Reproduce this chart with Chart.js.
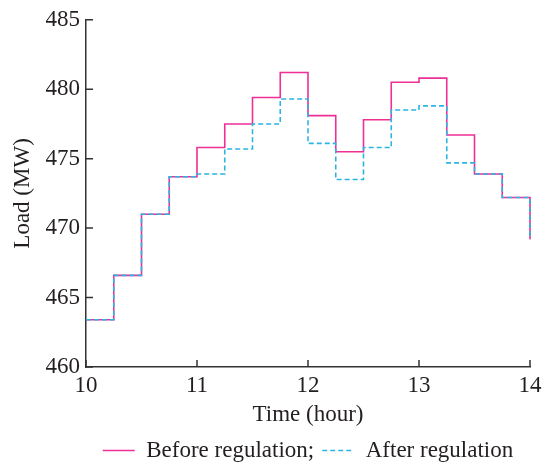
<!DOCTYPE html>
<html>
<head>
<meta charset="utf-8">
<script src="https://cdn.jsdelivr.net/npm/chart.js@4/dist/chart.umd.min.js"></script>
<style>
  html, body { margin: 0; padding: 0; background: #fff; }
</style>
</head>
<body>
<canvas id="chart" width="542" height="465"></canvas>
<script>
// time steps (hour), 15 min resolution
const hours = [10, 10.25, 10.5, 10.75, 11, 11.25, 11.5, 11.75, 12, 12.25, 12.5, 12.75, 13, 13.25, 13.5, 13.75, 14];
// load (MW)
const beforeLoad = [463.4, 466.6, 471.0, 473.7, 475.8, 477.5, 479.4, 481.2, 478.1, 475.5, 477.8, 480.5, 480.8, 476.7, 473.9, 472.2, 469.2];
const afterLoad  = [463.4, 466.6, 471.0, 473.7, 473.9, 475.7, 477.5, 479.3, 476.1, 473.5, 475.8, 478.5, 478.8, 474.7, 473.9, 472.2, 469.2];
const seriesNames = ['Before regulation;', 'After regulation'];
const xRange = [10, 14];
const yRange = [460, 485];

const textColor = '#231f20';
const axisColor = '#333333';
const font = { family: '"Liberation Serif", "Times New Roman", serif', size: 23 };

function toPoints(vals) {
    return hours.map((h, i) => ({ x: h, y: vals[i] }));
}

// ticks pointing into the plot
const inwardTicks = {
    id: 'inwardTicks',
    afterDraw(chart) {
        const { ctx, chartArea } = chart;
        const x = chart.scales.x, y = chart.scales.y;
        ctx.save();
        ctx.strokeStyle = axisColor;
        ctx.lineWidth = 1.5;
        ctx.beginPath();
        y.ticks.forEach((t, i) => {
            const py = y.getPixelForTick(i);
            ctx.moveTo(chartArea.left, py);
            ctx.lineTo(chartArea.left + 7, py);
        });
        x.ticks.forEach((t, i) => {
            const px = x.getPixelForTick(i);
            ctx.moveTo(px, chartArea.bottom);
            ctx.lineTo(px, chartArea.bottom - 7);
        });
        ctx.stroke();
        ctx.restore();
    }
};

const ctx = document.getElementById('chart').getContext('2d');
new Chart(ctx, {
    type: 'line',
    data: {
        datasets: [{
            label: seriesNames[0],
            data: toPoints(beforeLoad),
            borderColor: '#ee2f96',
            borderWidth: 1.6,
            stepped: 'before',
            pointRadius: 0,
            fill: false,
            clip: 4,
            order: 1
        }, {
            label: seriesNames[1],
            data: toPoints(afterLoad),
            borderColor: '#2db4e2',
            borderWidth: 1.6,
            borderDash: [5, 3],
            stepped: 'before',
            pointRadius: 0,
            fill: false,
            clip: 4,
            order: 0
        }]
    },
    options: {
        responsive: false,
        animation: false,
        layout: { padding: { top: 17, right: 12, left: 0, bottom: 0 } },
        plugins: {
            tooltip: { enabled: false },
            legend: {
                position: 'bottom',
                fullSize: false,
                maxHeight: 34,
                labels: {
                    usePointStyle: true,
                    pointStyle: 'line',
                    pointStyleWidth: 32,
                    padding: 8,
                    color: textColor,
                    font: font,
                    generateLabels: (chart) => {
                        const items = Chart.defaults.plugins.legend.labels.generateLabels(chart);
                        items.forEach(it => {
                            const ds = chart.data.datasets[it.datasetIndex];
                            it.lineDash = ds.borderDash || [];
                            it.lineWidth = ds.borderWidth;
                            it.strokeStyle = ds.borderColor;
                        });
                        return items;
                    },
                    sort: (a, b) => a.datasetIndex - b.datasetIndex
                }
            }
        },
        scales: {
            x: {
                type: 'linear',
                min: xRange[0],
                max: xRange[1],
                afterFit: (s) => { s.height = 64; s.paddingLeft = 0; s.paddingRight = 12; },
                ticks: { stepSize: 1, color: textColor, font: font, padding: 5, maxRotation: 0 },
                grid: { display: false, drawTicks: false },
                border: { display: true, color: axisColor, width: 1.5 },
                title: { display: true, text: 'Time (hour)', color: textColor, font: font, padding: { top: 0, bottom: 2 } }
            },
            y: {
                min: yRange[0],
                max: yRange[1],
                afterFit: (s) => { s.width = 86; },
                ticks: { stepSize: 5, color: textColor, font: font, padding: 6 },
                grid: { display: false, drawTicks: false },
                border: { display: true, color: axisColor, width: 1.5 },
                title: { display: true, text: 'Load (MW)', color: textColor, font: font, padding: { top: 9, bottom: 0 } }
            }
        }
    },
    plugins: [inwardTicks]
});
</script>
</body>
</html>
